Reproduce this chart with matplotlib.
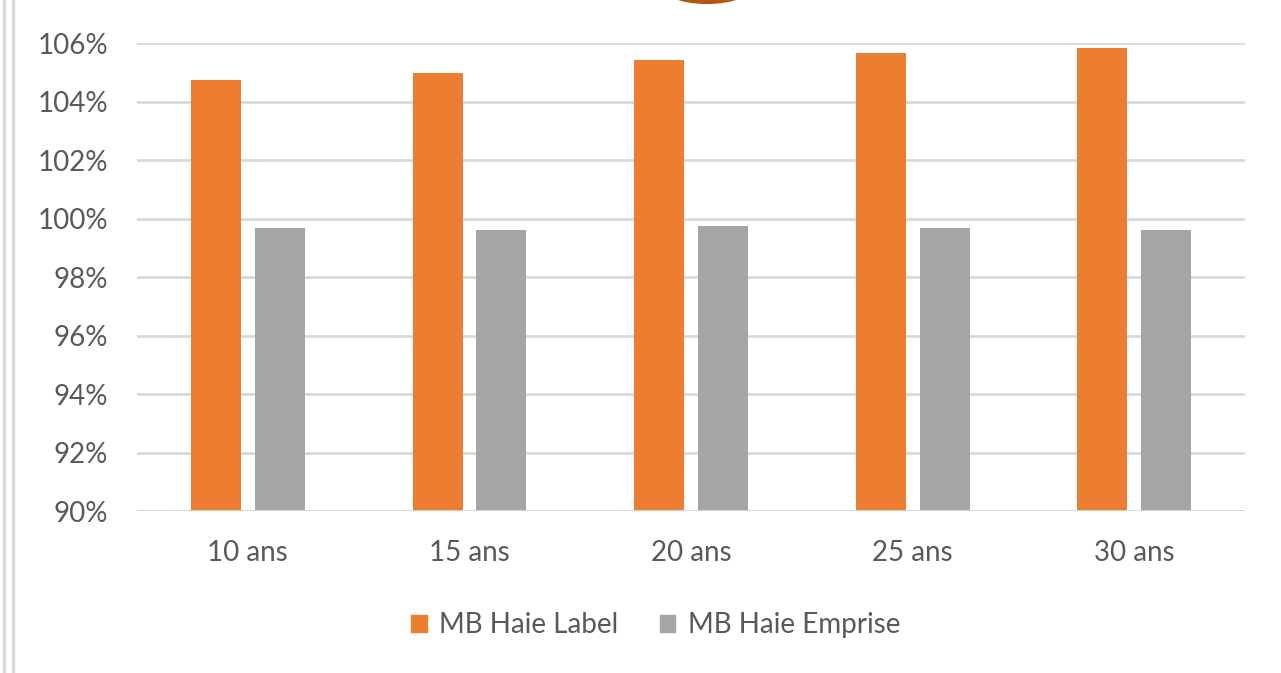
import numpy as np
import matplotlib.pyplot as plt
from matplotlib.patches import Rectangle, Arc
from matplotlib.lines import Line2D
from matplotlib.ticker import FuncFormatter

plt.rcParams['font.family'] = ['Lato', 'DejaVu Sans']

categories = ["10 ans", "15 ans", "20 ans", "25 ans", "30 ans"]
label_vals = [104.73, 104.97, 105.42, 105.66, 105.83]
emprise_vals = [99.68, 99.62, 99.74, 99.68, 99.62]

orange = "#ED7D31"
grey = "#A5A5A5"
txt = "#595959"

fig = plt.figure(figsize=(12.81, 6.73), dpi=100)
ax = fig.add_axes([0.107, 0.2407, 0.865, 0.6954])

x = np.arange(len(categories))
w = 0.226
off = 0.144
ax.bar(x - off, label_vals, width=w, color=orange, label="MB Haie Label", zorder=3)
ax.bar(x + off, emprise_vals, width=w, color=grey, label="MB Haie Emprise", zorder=3)

ax.set_ylim(90, 106)
ax.set_xlim(-0.5, 4.5)
ax.set_yticks(np.arange(90, 107, 2))
ax.yaxis.set_major_formatter(FuncFormatter(lambda v, p: f"{v:.0f}%"))
ax.set_xticks(x)
ax.set_xticklabels(categories)
ax.grid(axis="y", color="#D9D9D9", linewidth=2, zorder=0)
for s in ax.spines.values():
    s.set_visible(False)
ax.axhline(90, color="#D9D9D9", linewidth=2, zorder=4)
ax.tick_params(length=0, labelsize=20, colors=txt)
ax.tick_params(axis="y", pad=21)
ax.tick_params(axis="x", pad=21)

handles = [Rectangle((0, 0), 1, 1, color=orange), Rectangle((0, 0), 1, 1, color=grey)]
leg = fig.legend(handles, ["MB Haie Label", "MB Haie Emprise"], loc="center",
                 bbox_to_anchor=(0.512, 0.071), ncol=2, frameon=False,
                 fontsize=20, handlelength=0.55, handleheight=0.55,
                 columnspacing=1.5, handletextpad=0.45)
for t in leg.get_texts():
    t.set_color(txt)

# left border lines and arc at top
fig.add_artist(Line2D([4 / 1281, 4 / 1281], [0, 1], color="#D9D9D9", lw=2.5))
fig.add_artist(Line2D([13 / 1281, 13 / 1281], [0, 1], color="#D9D9D9", lw=2.5))
fig.add_artist(Arc((707 / 1281, 1 + 20 / 673), 100 / 1281, 44 / 673, theta1=180, theta2=360,
                   color="#B5541A", lw=3, transform=fig.transFigure))

fig.savefig("out.png", dpi=100)
